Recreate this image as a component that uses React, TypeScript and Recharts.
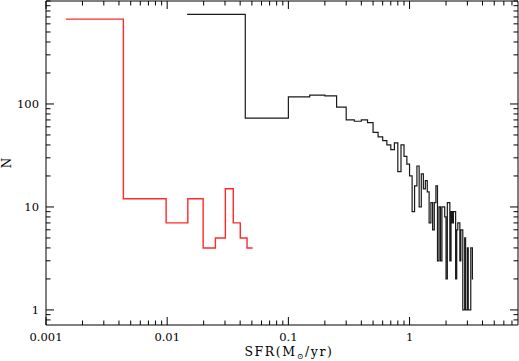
import { LineChart, Line, XAxis, YAxis } from "recharts";

// tick positions (log axes) and which of them carry a label
const xTicks = [
  0.001, 0.002, 0.003, 0.004, 0.005, 0.006, 0.007, 0.008, 0.009,
  0.01, 0.02, 0.03, 0.04, 0.05, 0.06, 0.07, 0.08, 0.09,
  0.1, 0.2, 0.3, 0.4, 0.5, 0.6, 0.7, 0.8, 0.9,
  1, 2, 3, 4, 5, 6, 7,
];
const xLabels = [0.001, 0.01, 0.1, 1];
const xLabelText = ["0.001", "0.01", "0.1", "1"];

const yTicks = [
  0.8, 0.9, 1, 2, 3, 4, 5, 6, 7, 8, 9,
  10, 20, 30, 40, 50, 60, 70, 80, 90,
  100, 200, 300, 400, 500, 600, 700, 800, 900, 1000,
];
const yLabels = [1, 10, 100];
const yLabelText = ["1", "10", "100"];

// red histogram: bin edges and counts
const redEdges = [0.00146, 0.00435, 0.0098, 0.0148, 0.0198, 0.025, 0.0302, 0.0351, 0.0401, 0.0456, 0.0507];
const redCounts = [667, 12, 7, 12, 4, 5, 15, 7, 5, 4];

// black histogram: bin edges and counts
const blackEdges = [
  0.0146, 0.0441, 0.1, 0.15, 0.2, 0.25, 0.3, 0.35, 0.4, 0.45, 0.5, 0.55, 0.6, 0.65,
  0.7, 0.75, 0.8, 0.85, 0.9, 0.95, 1.0, 1.05, 1.1, 1.15, 1.2, 1.25, 1.3, 1.35, 1.4,
  1.45, 1.5, 1.55, 1.6, 1.65, 1.7, 1.75, 1.8, 1.85, 1.9, 1.95, 2.0, 2.05, 2.1, 2.15,
  2.2, 2.25, 2.3, 2.35, 2.4, 2.45, 2.5, 2.55, 2.6, 2.65, 2.7, 2.75, 2.8, 2.85, 2.9,
  2.95, 3.0, 3.05, 3.1, 3.15, 3.2, 3.25, 3.3, 3.35,
];
const blackCounts = [
  740, 73, 117, 122, 120, 93, 70, 68, 70, 66, 53, 48, 44, 40,
  36, 42, 22, 40, 31, 26, 20, 9, 16, 25, 10, 21, 15, 18, 14,
  7, 11, 6, 11, 16, 3, 10, 3, 10, 10, 8, 2, 11, 11, 3,
  9, 7, 9, 9, 2, 6, 7, 7, 3, 6, 6, 1, 1, 5, 1,
  1, 4, 1, 1, 1, 4, 4, 2,
];

const toSteps = (edges: number[], counts: number[]) =>
  edges.map((x, i) => ({ x, n: counts[Math.min(i, counts.length - 1)] }));

const redData = toSteps(redEdges, redCounts);
const blackData = toSteps(blackEdges, blackCounts);

const FONT = "DejaVu Serif";
const MAJOR = 8;
const MINOR = 4.5;

const labelIndex = (v: number, majors: number[]) =>
  majors.findIndex((m) => Math.abs(v - m) / m < 1e-6);

type Side = "bottom" | "top" | "left" | "right";

const makeTick = (side: Side, majors: number[], texts: string[] | null) => (props: any) => {
  const { x, y, payload } = props;
  const idx = labelIndex(payload.value, majors);
  const len = idx >= 0 ? MAJOR : MINOR;
  let x2 = x;
  let y2 = y;
  if (side === "bottom") y2 = y - len;
  if (side === "top") y2 = y + len;
  if (side === "left") x2 = x + len;
  if (side === "right") x2 = x - len;
  return (
    <g>
      <line x1={x} y1={y} x2={x2} y2={y2} stroke="#000" strokeWidth={1} />
      {texts && idx >= 0 && side === "bottom" && (
        <text x={x} y={y + 16} textAnchor="middle" fontFamily={FONT} fontSize={11.5} fill="#000">
          {texts[idx]}
        </text>
      )}
      {texts && idx >= 0 && side === "left" && (
        <text x={x - 7} y={y + 4} textAnchor="end" fontFamily={FONT} fontSize={11.5} fill="#000">
          {texts[idx]}
        </text>
      )}
    </g>
  );
};

const XTitle = (props: any) => {
  const vb = props.viewBox || { x: 46, y: 325, width: 472, height: 36 };
  return (
    <text
      x={vb.x + vb.width / 2 + 7}
      y={vb.y + 31}
      textAnchor="middle"
      fontFamily={FONT}
      fontSize={12.5}
      letterSpacing={1.6}
      fill="#000"
    >
      SFR(M
      <tspan fontSize={8} dy={3}>⊙</tspan>
      <tspan dy={-3}>/yr)</tspan>
    </text>
  );
};

const YTitle = (props: any) => {
  const vb = props.viewBox || { x: 0, y: 1, width: 46, height: 324 };
  const cy = vb.y + vb.height / 2;
  return (
    <text
      x={11}
      y={cy}
      transform={`rotate(-90 11 ${cy})`}
      textAnchor="middle"
      fontFamily={FONT}
      fontSize={12}
      fill="#000"
    >
      N
    </text>
  );
};

const axisLine = { stroke: "#000", strokeWidth: 1 };

export default function App() {
  return (
    <div style={{ position: "absolute", left: 0, top: 0, background: "#fff" }}>
      <LineChart width={519} height={361} margin={{ top: 0, right: 0, bottom: 0, left: 0 }}>
        <XAxis
          xAxisId="b"
          type="number"
          dataKey="x"
          scale="log"
          domain={[0.001, 7.85]}
          allowDataOverflow
          ticks={xTicks}
          interval={0}
          height={36}
          tickSize={0}
          tickMargin={0}
          tickLine={false}
          axisLine={axisLine}
          tick={makeTick("bottom", xLabels, xLabelText)}
          label={<XTitle />}
        />
        <XAxis
          xAxisId="t"
          orientation="top"
          type="number"
          dataKey="x"
          scale="log"
          domain={[0.001, 7.85]}
          allowDataOverflow
          ticks={xTicks}
          interval={0}
          height={1}
          tickSize={0}
          tickMargin={0}
          tickLine={false}
          axisLine={axisLine}
          tick={makeTick("top", xLabels, null)}
        />
        <YAxis
          yAxisId="l"
          type="number"
          scale="log"
          domain={[0.714, 1000]}
          allowDataOverflow
          ticks={yTicks}
          interval={0}
          width={46}
          tickSize={0}
          tickMargin={0}
          tickLine={false}
          axisLine={axisLine}
          tick={makeTick("left", yLabels, yLabelText)}
          label={<YTitle />}
        />
        <YAxis
          yAxisId="r"
          orientation="right"
          type="number"
          scale="log"
          domain={[0.714, 1000]}
          allowDataOverflow
          ticks={yTicks}
          interval={0}
          width={1}
          tickSize={0}
          tickMargin={0}
          tickLine={false}
          axisLine={axisLine}
          tick={makeTick("right", yLabels, null)}
        />
        <Line
          xAxisId="b"
          yAxisId="l"
          data={redData}
          dataKey="n"
          type="stepAfter"
          stroke="#ff2a2a"
          strokeWidth={1.4}
          dot={false}
          activeDot={false}
          isAnimationActive={false}
        />
        <Line
          xAxisId="b"
          yAxisId="l"
          data={blackData}
          dataKey="n"
          type="stepAfter"
          stroke="#1a1a1a"
          strokeWidth={1.2}
          dot={false}
          activeDot={false}
          isAnimationActive={false}
        />
      </LineChart>
    </div>
  );
}
